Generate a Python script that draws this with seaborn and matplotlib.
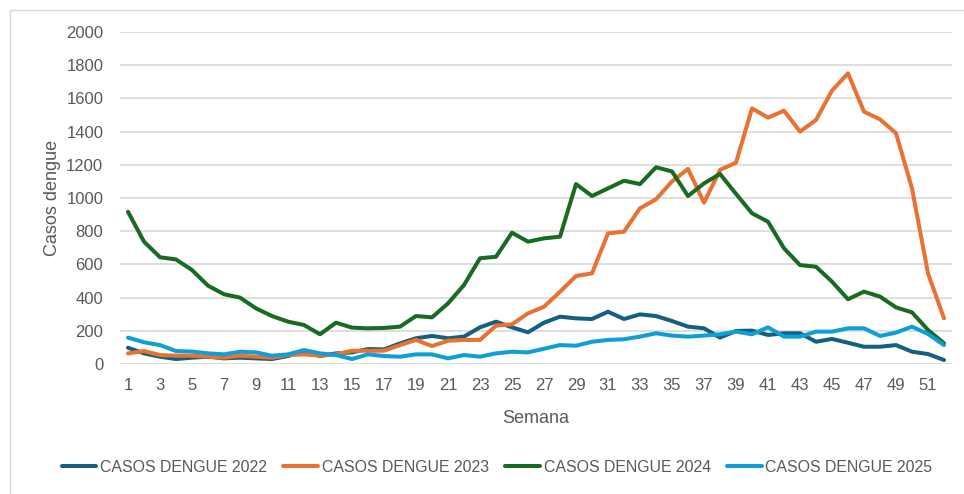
import numpy as np
import pandas as pd
import matplotlib.pyplot as plt
import seaborn as sns
from matplotlib.patches import Rectangle

semanas = list(range(1, 53))

casos_2022 = [98, 64, 44, 30, 38, 44, 34, 38, 34, 30, 48, 78, 48, 64, 70, 90, 88, 124,
              155, 169, 155, 165, 221, 255, 221, 191, 249, 285, 275, 271, 315, 271,
              299, 289, 259, 225, 215, 159, 199, 201, 175, 185, 185, 134, 151, 128,
              104, 104, 114, 74, 60, 24]
casos_2023 = [64, 78, 54, 50, 50, 44, 38, 50, 44, 38, 54, 58, 50, 58, 80, 80, 80, 114,
              145, 108, 140, 145, 145, 231, 239, 305, 345, 435, 530, 546, 787, 797,
              938, 992, 1100, 1175, 972, 1169, 1213, 1540, 1484, 1526, 1400, 1470,
              1647, 1751, 1520, 1474, 1390, 1058, 546, 275]
casos_2024 = [917, 737, 643, 630, 566, 472, 420, 400, 335, 289, 255, 235, 179, 249,
              219, 215, 217, 225, 289, 281, 365, 476, 637, 646, 791, 737, 757, 767,
              1084, 1012, 1058, 1104, 1084, 1185, 1160, 1012, 1088, 1145, 1025, 908,
              857, 697, 596, 586, 496, 390, 436, 406, 341, 311, 205, 125]
casos_2025 = [159, 131, 114, 78, 75, 64, 58, 74, 70, 50, 58, 84, 64, 54, 30, 58, 48,
              44, 58, 58, 34, 54, 44, 64, 74, 70, 92, 114, 110, 134, 145, 149, 165,
              185, 171, 165, 171, 179, 195, 179, 221, 165, 165, 195, 195, 215, 215,
              169, 189, 225, 181, 114]

series = {
    'CASOS DENGUE 2022': casos_2022,
    'CASOS DENGUE 2023': casos_2023,
    'CASOS DENGUE 2024': casos_2024,
    'CASOS DENGUE 2025': casos_2025,
}
colores = {
    'CASOS DENGUE 2022': '#156082',
    'CASOS DENGUE 2023': '#E97132',
    'CASOS DENGUE 2024': '#196B24',
    'CASOS DENGUE 2025': '#0F9ED5',
}

df = pd.concat(
    [pd.DataFrame({'Semana': semanas, 'Casos': v, 'Serie': k}) for k, v in series.items()],
    ignore_index=True)

sns.set_theme(style='white')
plt.rcParams['font.family'] = ['Liberation Sans', 'DejaVu Sans']
texto = '#595959'

fig = plt.figure(figsize=(9.64, 4.94), dpi=100)
ax = fig.add_axes([120 / 964, 1 - 364 / 494, (952 - 120) / 964, (364 - 32) / 494])

sns.lineplot(data=df, x='Semana', y='Casos', hue='Serie', palette=colores,
             linewidth=2.9, ax=ax, legend=True)

ax.set_xlim(0.5, 52.5)
ax.set_ylim(0, 2000)
ax.set_yticks(np.arange(0, 2001, 200))
ax.set_xticks(range(1, 53, 2))
ax.grid(axis='y', color='#D9D9D9', linewidth=1.2)
ax.grid(axis='x', visible=False)
for s in ax.spines.values():
    s.set_visible(False)
ax.tick_params(axis='both', length=0, labelsize=12, labelcolor=texto)
ax.tick_params(axis='y', pad=12)
ax.tick_params(axis='x', pad=10)
ax.set_xlabel('Semana', fontsize=13, color=texto, labelpad=12)
ax.set_ylabel('Casos dengue', fontsize=13, color=texto, labelpad=4)

handles, labels = ax.get_legend_handles_labels()
ax.get_legend().remove()
fig.legend(handles, labels, loc='center', bbox_to_anchor=(497 / 964, 1 - 467 / 494),
           ncol=4, frameon=False, fontsize=11.4, labelcolor=texto, handlelength=2.2,
           handletextpad=0.25, columnspacing=1.0)

fig.patches.append(Rectangle((10 / 964, -0.05), 1.0, 1 - 10 / 494 + 0.05,
                             transform=fig.transFigure, fill=False,
                             edgecolor='#D9D9D9', linewidth=1.0))

fig.savefig('out.png', dpi=100)
